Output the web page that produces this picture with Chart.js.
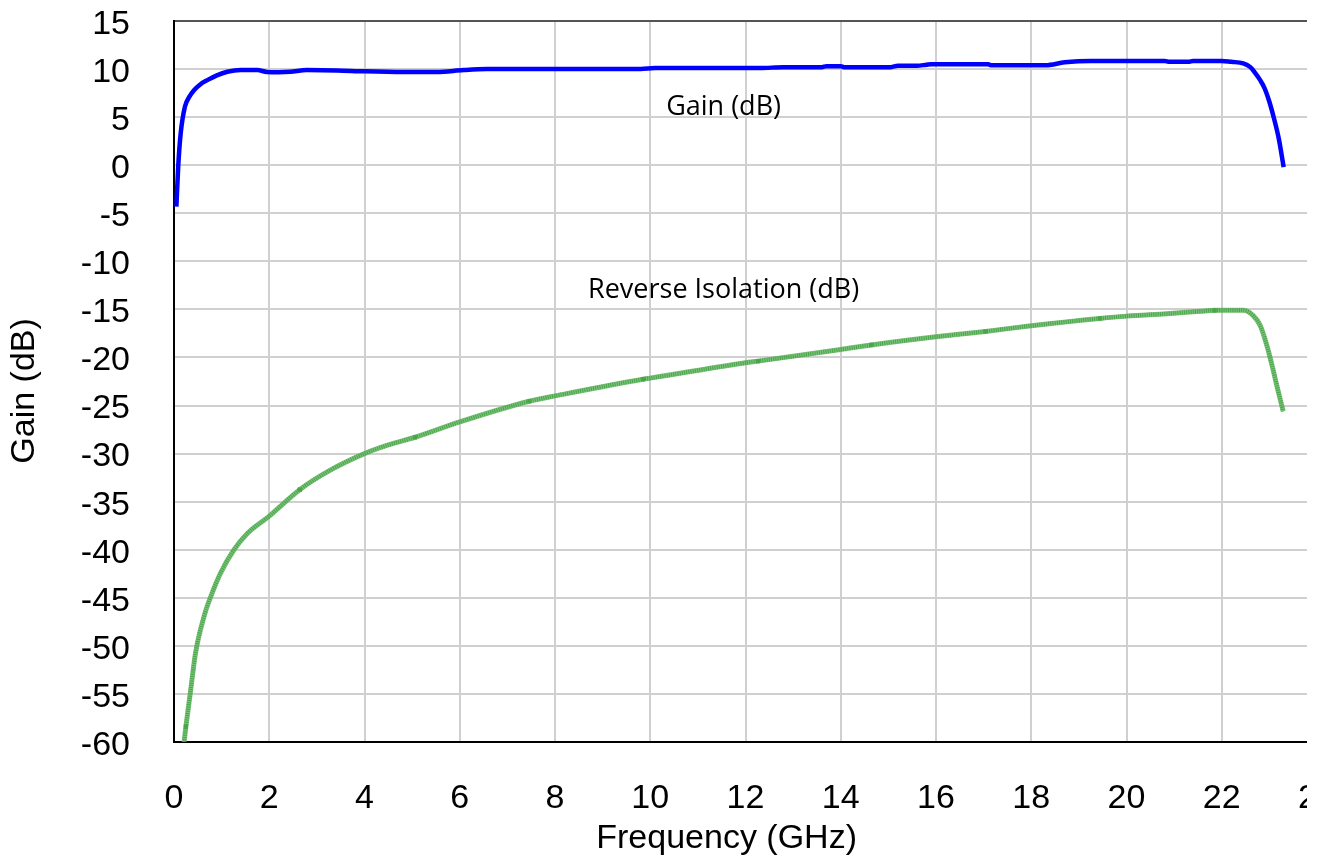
<!DOCTYPE html>
<html><head><meta charset="utf-8">
<script src="https://cdn.jsdelivr.net/npm/chart.js@4.4.0/dist/chart.umd.min.js"></script>
<style>
html,body{margin:0;padding:0;background:#fff;overflow:hidden;}
#clip{position:absolute;left:0;top:0;width:1307px;height:861px;overflow:hidden;background:#fff;}
#c{display:block;width:1340px;height:861px;}
</style></head><body>
<div id="clip"><canvas id="c" width="1340" height="861"></canvas></div>
<script>
// Frequency (GHz) and Gain (dB)
const gainFreq = [0.05,0.09,0.14,0.23,0.32,0.42,0.55,0.70,0.90,1.12,1.40,1.75,1.95,2.20,2.44,2.79,3.42,4.00,4.82,5.52,6.08,6.57,7.90,9.80,10.10,12.30,12.80,13.60,13.70,14.00,14.07,15.05,15.20,15.60,15.80,15.90,17.10,17.15,18.30,18.70,19.25,20.80,20.90,21.30,21.40,22.00,22.20,22.45,22.60,22.70,22.80,22.90,23.00,23.10,23.20,23.30];
const gainDb   = [-4.3,0.0,3.3,6.1,7.1,7.8,8.4,8.85,9.35,9.72,9.9,9.9,9.7,9.68,9.72,9.9,9.86,9.76,9.69,9.69,9.9,10.0,10.0,10.0,10.1,10.1,10.2,10.2,10.3,10.3,10.2,10.2,10.35,10.35,10.45,10.5,10.5,10.4,10.4,10.7,10.85,10.85,10.75,10.75,10.85,10.85,10.75,10.6,10.2,9.6,8.9,8.0,6.6,4.8,2.7,-0.2];
// Frequency (GHz) and Reverse Isolation (dB)
const isoFreq = [0.20,0.25,0.35,0.45,0.63,0.77,0.98,1.26,1.54,2.00,2.64,3.29,4.00,4.50,5.06,6.00,7.46,8.00,9.85,10.00,12.00,12.26,14.00,14.64,16.00,17.04,18.00,19.44,20.00,20.85,21.55,21.85,22.46,22.67,22.81,22.95,23.06,23.16,23.29];
const isoDb   = [-60.5,-58.4,-54.6,-50.8,-46.95,-44.9,-42.4,-40.0,-38.3,-36.5,-33.75,-31.7,-30.0,-29.1,-28.3,-26.7,-24.55,-24.0,-22.26,-22.15,-20.55,-20.38,-19.17,-18.7,-17.85,-17.29,-16.7,-15.94,-15.7,-15.45,-15.2,-15.1,-15.1,-15.7,-16.7,-18.8,-20.9,-23.0,-25.6];
// square markers on the isolation trace
const markerFreq = [0.25,2.64,5.06,7.46,9.85,12.26,14.64,17.04,19.44,21.85];
const markerDb   = [-58.4,-33.75,-28.3,-24.55,-22.26,-20.38,-18.7,-17.29,-15.94,-15.1];
// axis ticks
const xTicks = [0,2,4,6,8,10,12,14,16,18,20,22,24];
const yTicks = [-60,-55,-50,-45,-40,-35,-30,-25,-20,-15,-10,-5,0,5,10,15];
const xTitle = 'Frequency (GHz)';
const yTitle = 'Gain (dB)';
const notes = [
  {text:'Gain (dB)', x:11.54, y:5.23},
  {text:'Reverse Isolation (dB)', x:11.54, y:-13.8}
];

const pts = (xs, ys) => xs.map((v,i)=>({x:v, y:ys[i]}));

const notePlugin = {
  id:'notes',
  afterDatasetsDraw(chart){
    const {ctx, scales:{x,y}} = chart;
    ctx.save();
    ctx.font = '27px "Open Sans"';
    ctx.fillStyle = '#000';
    ctx.textAlign = 'center';
    ctx.textBaseline = 'alphabetic';
    notes.forEach(n => ctx.fillText(n.text, x.getPixelForValue(n.x), y.getPixelForValue(n.y)));
    ctx.restore();
  }
};

const noPad = s => { s.paddingTop = 0; s.paddingBottom = 0; s.paddingLeft = 0; s.paddingRight = 0; };
const tickFont = {family:'"Liberation Sans", Arial, sans-serif', size:34};
const NB = '\u00a0';

new Chart(document.getElementById('c'), {
  type:'line',
  data:{
    datasets:[
      {label:'Gain (dB)', data:pts(gainFreq,gainDb), borderColor:'#0000ff', borderWidth:4.5, pointRadius:0, cubicInterpolationMode:'monotone'},
      {label:'Reverse Isolation (dB)', data:pts(isoFreq,isoDb), borderColor:'rgba(90,180,90,0.8)', borderWidth:5, pointRadius:0, cubicInterpolationMode:'monotone'},
      {label:'Reverse Isolation hatch', data:pts(isoFreq,isoDb), borderColor:'#006400', borderWidth:4, borderDash:[1,1.2], pointRadius:0, cubicInterpolationMode:'monotone'},
      {label:'markers', data:pts(markerFreq,markerDb), showLine:false, pointStyle:'rect', pointRadius:3, backgroundColor:'#007a00', borderWidth:0}
    ]
  },
  options:{
    responsive:false, maintainAspectRatio:false, animation:false, devicePixelRatio:1,
    layout:{padding:{top:21, right:23, left:0, bottom:0}},
    plugins:{legend:{display:false}, tooltip:{enabled:false}},
    scales:{
      x:{type:'linear', min:0, max:24,
        afterBuildTicks:s=>{ s.ticks = xTicks.map(v=>({value:v})); },
        afterFit:s=>{ s.height = 119; noPad(s); },
        grid:{color:'#d0d0d0', lineWidth:2, drawTicks:false},
        border:{color:'#000', width:2},
        ticks:{font:tickFont, color:'#000', padding:36, maxRotation:0, autoSkip:false},
        title:{display:true, text:xTitle + NB.repeat(4), font:tickFont, color:'#000', padding:{top:0,bottom:2}}
      },
      y:{type:'linear', min:-60, max:15,
        afterBuildTicks:s=>{ s.ticks = yTicks.map(v=>({value:v})); },
        afterFit:s=>{ s.width = 174; noPad(s); },
        grid:{color:ctx=> ctx.tick && ctx.tick.value===15 ? '#555555' : '#d0d0d0', lineWidth:2, drawTicks:false},
        border:{color:'#000', width:2},
        ticks:{font:tickFont, color:'#000', padding:44, labelOffset:3.5, autoSkip:false},
        title:{display:true, text:yTitle + NB.repeat(2), font:tickFont, color:'#000', padding:{top:4,bottom:0}}
      }
    }
  },
  plugins:[notePlugin]
});
</script>
</body></html>
